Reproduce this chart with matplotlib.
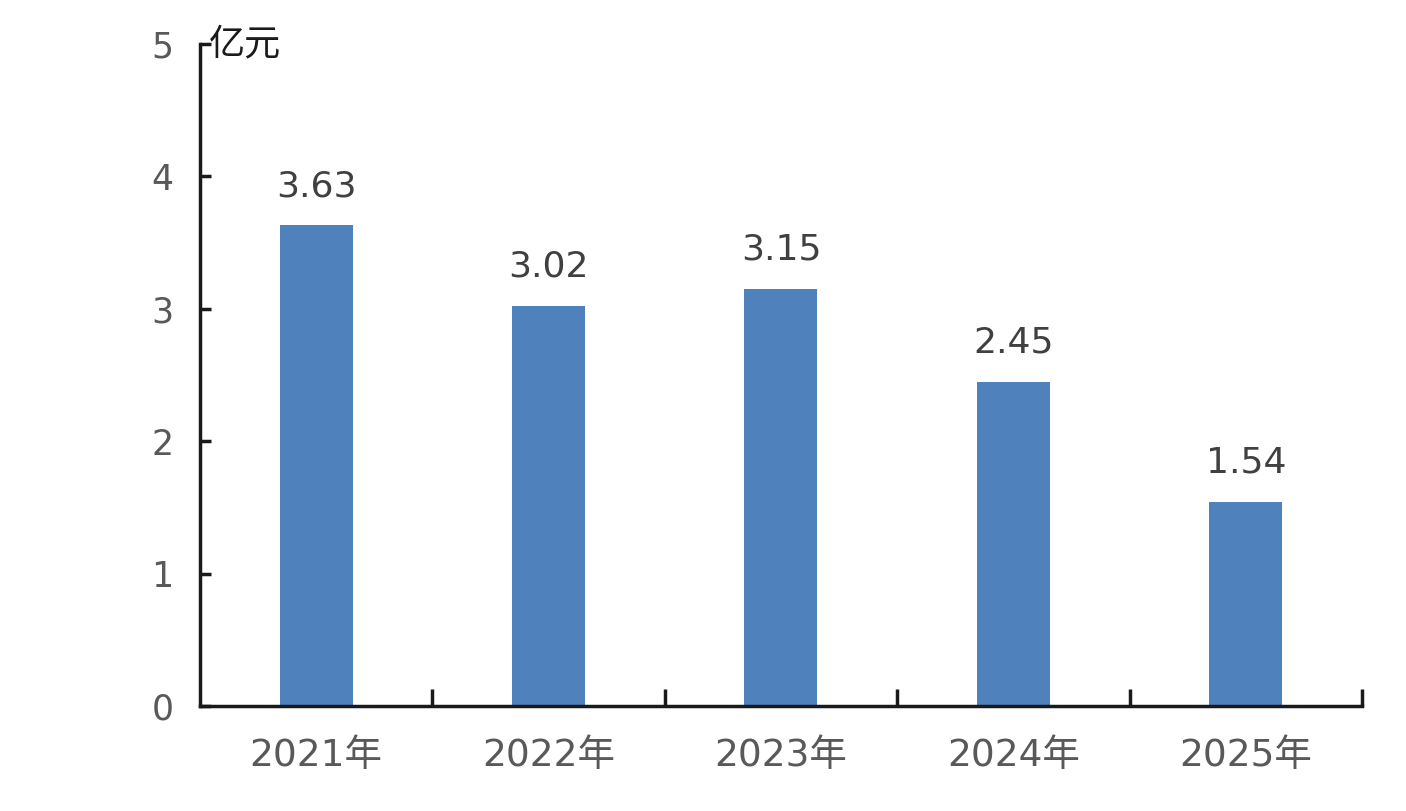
import matplotlib
matplotlib.use("Agg")
import matplotlib.pyplot as plt
import numpy as np

plt.rcParams['font.family'] = ['DejaVu Sans', 'Noto Sans CJK SC']

categories = ['2021年', '2022年', '2023年', '2024年', '2025年']
values = [3.63, 3.02, 3.15, 2.45, 1.54]
yticks = [0, 1, 2, 3, 4, 5]
unit = '亿元'

bar_color = '#4F81BD'
tick_color = '#595959'
label_color = '#404040'

fig = plt.figure(figsize=(14.06, 8.11), dpi=100)
ax = fig.add_axes([0.1422, 0.1295, 0.8265, 0.8162])

x = np.arange(len(categories))
ax.bar(x, values, width=0.314, color=bar_color, zorder=2)

for xi, v in zip(x, values):
    ax.annotate(f'{v:.2f}', (xi, v), xytext=(0, 16), textcoords='offset points',
                ha='center', va='bottom', fontsize=26, color=label_color)

ax.set_xlim(-0.5, len(categories) - 0.5)
ax.set_ylim(0, 5)

ax.set_yticks(yticks)
ax.set_yticklabels([str(t) for t in yticks])
ax.tick_params(axis='y', direction='in', length=8, width=2.5, color='#1a1a1a',
               labelsize=25, labelcolor=tick_color, pad=19)

ax.set_xticks(x)
ax.set_xticklabels(categories)
ax.tick_params(axis='x', length=0, labelsize=27, labelcolor=tick_color, pad=23)
ax.set_xticks(np.arange(len(categories)) + 0.5, minor=True)
ax.tick_params(axis='x', which='minor', direction='in', length=12, width=2.5, color='#1a1a1a')

for s in ['top', 'right']:
    ax.spines[s].set_visible(False)
for s in ['left', 'bottom']:
    ax.spines[s].set_linewidth(2.5)
    ax.spines[s].set_color('#1a1a1a')

ax.text(0.008, 5, unit, transform=ax.get_yaxis_transform(), ha='left', va='center',
        fontsize=26, color='#1a1a1a')

fig.savefig('out.png', dpi=100)
